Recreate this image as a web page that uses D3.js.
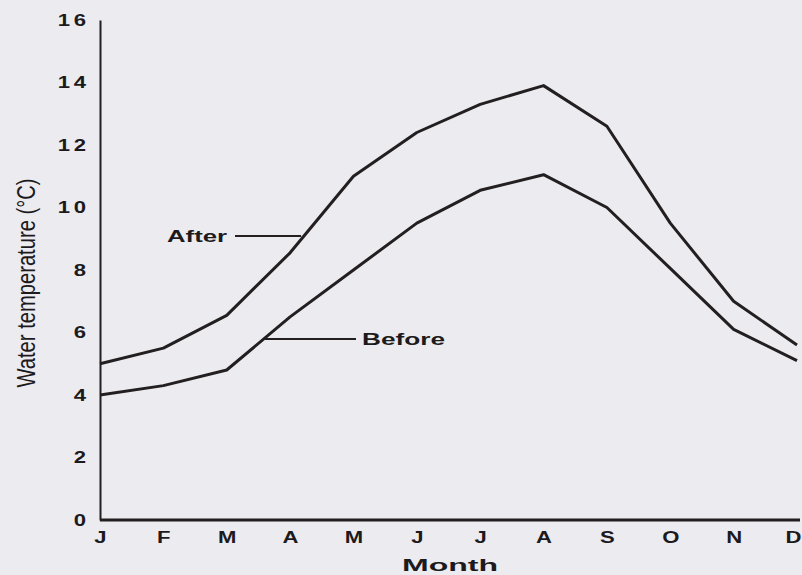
<!DOCTYPE html>
<html>
<head>
<meta charset="utf-8">
<script src="https://cdn.jsdelivr.net/npm/d3@7"></script>
<style>
  html, body { margin: 0; padding: 0; background: #ecebef; }
  svg { display: block; }
  text { fill: #1c1a1c; }
</style>
</head>
<body>
<svg id="chart" width="802" height="575"></svg>
<script>
// Monthly water temperature, before and after
const months = ["J", "F", "M", "A", "M", "J", "J", "A", "S", "O", "N", "D"];
const after  = [5.0, 5.5, 6.55, 8.55, 11.0, 12.4, 13.3, 13.9, 12.6, 9.5, 7.0, 5.6];
const before = [4.0, 4.3, 4.8, 6.5, 8.0, 9.5, 10.55, 11.05, 10.0, 8.05, 6.1, 5.1];
const yTicks = [0, 2, 4, 6, 8, 10, 12, 14, 16];

const svg = d3.select("#chart");
const left = 100;

const x = d3.scalePoint().domain(d3.range(months.length)).range([left, 797]);
const y = d3.scaleLinear().domain([0, 16]).range([520, 20]);

const ink = "#231f21";
const wideFont = "'Liberation Sans', Arial, sans-serif";
const stretch = 1.3;   // extended lettering for ticks and labels

// y axis
const gy = svg.append("g").attr("transform", `translate(${left},0)`)
  .call(d3.axisLeft(y).tickValues(yTicks).tickSize(0));
gy.select(".domain").attr("stroke", ink).attr("stroke-width", 2);
gy.selectAll("text")
  .attr("font-family", wideFont).attr("font-size", 17).attr("font-weight", "bold")
  .attr("letter-spacing", 3).attr("fill", "#1c1a1c")
  .attr("x", -10 / stretch)
  .attr("transform", `scale(${stretch},1)`);

// x axis
const gx = svg.append("g").attr("transform", `translate(0,${y(0)})`)
  .call(d3.axisBottom(x).tickFormat(i => months[i]).tickSize(0).tickPadding(9));
gx.select(".domain").attr("stroke", ink).attr("stroke-width", 3)
  .attr("d", `M${left},0H800`);
gx.selectAll("text")
  .attr("font-family", wideFont).attr("font-size", 17).attr("font-weight", "bold")
  .attr("fill", "#1c1a1c").attr("dy", "0.85em")
  .attr("transform", `scale(${stretch},1)`);
// keep the last month label inside the right edge
gx.selectAll(".tick").filter(i => i === months.length - 1).select("text")
  .attr("x", -4 / stretch);

// axis titles
svg.append("text")
  .attr("transform", "translate(35,283) rotate(-90)")
  .attr("text-anchor", "middle")
  .attr("font-family", "'Liberation Sans Narrow', 'Arial Narrow', sans-serif")
  .attr("font-size", 26)
  .attr("textLength", 209).attr("lengthAdjust", "spacingAndGlyphs")
  .text("Water temperature (°C)");

svg.append("text")
  .attr("x", 402).attr("y", 571)
  .attr("font-family", wideFont).attr("font-size", 16).attr("font-weight", "bold")
  .attr("textLength", 96).attr("lengthAdjust", "spacingAndGlyphs")
  .text("Month");

// series lines
const line = d3.line().x((d, i) => x(i)).y(d => y(d));
[after, before].forEach(series => {
  svg.append("path").datum(series)
    .attr("d", line)
    .attr("fill", "none")
    .attr("stroke", ink)
    .attr("stroke-width", 3)
    .attr("stroke-linejoin", "round");
});

// series labels with leader lines
svg.append("text")
  .attr("x", 167).attr("y", 242)
  .attr("font-family", wideFont).attr("font-size", 17).attr("font-weight", "bold")
  .attr("textLength", 60).attr("lengthAdjust", "spacingAndGlyphs")
  .text("After");
svg.append("line")
  .attr("x1", 235).attr("x2", x(3) + 11).attr("y1", 236).attr("y2", 236)
  .attr("stroke", ink).attr("stroke-width", 2);

svg.append("text")
  .attr("x", 362).attr("y", 345)
  .attr("font-family", wideFont).attr("font-size", 17).attr("font-weight", "bold")
  .attr("textLength", 83).attr("lengthAdjust", "spacingAndGlyphs")
  .text("Before");
svg.append("line")
  .attr("x1", x(3) - 26).attr("x2", 356).attr("y1", 339).attr("y2", 339)
  .attr("stroke", ink).attr("stroke-width", 2);
</script>
</body>
</html>
